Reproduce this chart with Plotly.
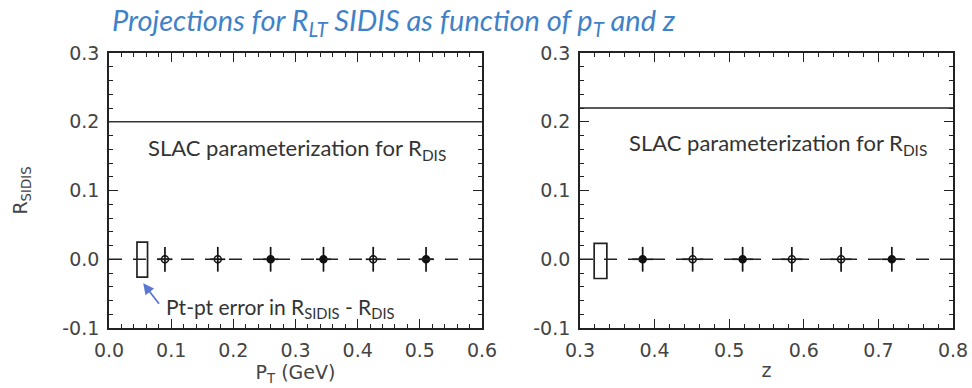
import plotly.graph_objects as go

# ---- data ----
pt_x = [0.09, 0.175, 0.26, 0.345, 0.425, 0.51]
pt_y = [0.0, 0.0, 0.0, 0.0, 0.0, 0.0]
pt_err = [0.018, 0.018, 0.018, 0.018, 0.018, 0.018]
pt_xerr = [0.012, 0.012, 0.012, 0.012, 0.012, 0.012]
pt_filled = [False, False, True, True, False, True]

z_x = [0.384, 0.451, 0.518, 0.584, 0.650, 0.718]
z_y = [0.0, 0.0, 0.0, 0.0, 0.0, 0.0]
z_err = [0.018, 0.018, 0.018, 0.018, 0.018, 0.018]
z_xerr = [0.014, 0.014, 0.014, 0.014, 0.014, 0.014]
z_filled = [True, False, True, False, False, True]

r_dis_pt = 0.2
r_dis_z = 0.22
box_pt_x = [0.045, 0.062]
box_pt_y = [-0.026, 0.025]
box_z_x = [0.319, 0.336]
box_z_y = [-0.028, 0.023]

pt_range = [0.0, 0.6]
z_range = [0.3, 0.8]
y_range = [-0.1, 0.3]
pt_ticks = [0.0, 0.1, 0.2, 0.3, 0.4, 0.5, 0.6]
z_ticks = [0.3, 0.4, 0.5, 0.6, 0.7, 0.8]
y_ticks = [-0.1, 0.0, 0.1, 0.2, 0.3]

W, H = 972, 388
fig = go.Figure()

def add_points(xs, ys, ey, ex, filled, xa, ya):
    for x, y, e, xe, f in zip(xs, ys, ey, ex, filled):
        fig.add_trace(go.Scatter(
            x=[x], y=[y], mode="markers", xaxis=xa, yaxis=ya,
            marker=dict(symbol="circle" if f else "circle-open", size=7,
                        color="#111", line=dict(color="#111", width=1.5)),
            error_y=dict(type="data", array=[e], width=0, thickness=1.7, color="#111"),
            error_x=dict(type="data", array=[xe], width=0, thickness=1.7, color="#111"),
            showlegend=False, hoverinfo="skip"))

add_points(pt_x, pt_y, pt_err, pt_xerr, pt_filled, "x", "y")
add_points(z_x, z_y, z_err, z_xerr, z_filled, "x2", "y2")

font_tick = dict(family="DejaVu Sans, Verdana, sans-serif", size=19, color="#444")
minor = dict(dtick=0.02, ticks="inside", ticklen=4, tickwidth=1.2, tickcolor="#222")
axis_common = dict(showline=True, linecolor="#222", linewidth=1.7, mirror="ticks",
                   ticks="inside", ticklen=9, tickwidth=1.4, tickcolor="#222",
                   showgrid=False, zeroline=False, tickfont=font_tick, automargin=False)

fig.update_layout(
    width=W, height=H, margin=dict(l=0, r=0, t=0, b=0),
    paper_bgcolor="white", plot_bgcolor="white",
    xaxis=dict(domain=[109 / W, 482 / W], range=pt_range, tickvals=pt_ticks,
               ticktext=[f"{t:.1f}" for t in pt_ticks], anchor="y", minor=minor,
               ticklabelstandoff=4,
               title=dict(text="P<sub>T</sub> (GeV)", font=font_tick, standoff=4)),
    yaxis=dict(domain=[1 - 328 / H, 1 - 53 / H], range=y_range, tickvals=y_ticks,
               ticktext=[f"{t:.1f}" for t in y_ticks], anchor="x", minor=minor,
               ticklabelstandoff=4,
               title=dict(text="R<sub>SIDIS</sub>", font=font_tick, standoff=30)),
    xaxis2=dict(domain=[580 / W, 953 / W], range=z_range, tickvals=z_ticks,
                ticktext=[f"{t:.1f}" for t in z_ticks], anchor="y2", minor=minor,
                ticklabelstandoff=4,
                title=dict(text="z", font=font_tick, standoff=4)),
    yaxis2=dict(domain=[1 - 328 / H, 1 - 53 / H], range=y_range, tickvals=y_ticks,
                ticktext=[f"{t:.1f}" for t in y_ticks], anchor="x2", minor=minor,
                ticklabelstandoff=4),
)
for ax in ["xaxis", "yaxis", "xaxis2", "yaxis2"]:
    fig.layout[ax].update(axis_common)

shapes = []
shapes.append(dict(type="line", xref="x domain", yref="y", x0=0, x1=1, y0=r_dis_pt, y1=r_dis_pt,
                   line=dict(color="#333", width=1.7)))
shapes.append(dict(type="line", xref="x2 domain", yref="y2", x0=0, x1=1, y0=r_dis_z, y1=r_dis_z,
                   line=dict(color="#222", width=1.7)))
shapes.append(dict(type="line", xref="x domain", yref="y", x0=0, x1=1, y0=0, y1=0,
                   line=dict(color="#222", width=1.7, dash="13px,11px")))
shapes.append(dict(type="line", xref="x2 domain", yref="y2", x0=0, x1=1, y0=0, y1=0,
                   line=dict(color="#222", width=1.7, dash="13px,11px")))
shapes.append(dict(type="rect", xref="x", yref="y", x0=box_pt_x[0], x1=box_pt_x[1],
                   y0=box_pt_y[0], y1=box_pt_y[1], line=dict(color="#222", width=1.7)))
shapes.append(dict(type="rect", xref="x2", yref="y2", x0=box_z_x[0], x1=box_z_x[1],
                   y0=box_z_y[0], y1=box_z_y[1], line=dict(color="#222", width=1.7)))
fig.update_layout(shapes=shapes)

font_note = dict(family="Lato, Open Sans, sans-serif", size=22, color="#333")
fig.add_annotation(x=0.06, y=0.16, xref="x", yref="y", xanchor="left", yanchor="middle",
                   text="SLAC parameterization for R<sub>DIS</sub>", showarrow=False, font=font_note)
fig.add_annotation(x=0.363, y=0.168, xref="x2", yref="y2", xanchor="left", yanchor="middle",
                   text="SLAC parameterization for R<sub>DIS</sub>", showarrow=False, font=font_note)
fig.add_annotation(x=0.088, y=-0.071, xref="x", yref="y", xanchor="left", yanchor="middle",
                   text="Pt-pt error in R<sub>SIDIS</sub> - R<sub>DIS</sub>", showarrow=False,
                   font=dict(family="Lato, Open Sans, sans-serif", size=21, color="#333"))
fig.add_annotation(x=0.055, y=-0.035, xref="x", yref="y", text="", showarrow=True,
                   ax=17, ay=22, arrowhead=2, arrowsize=1.2, arrowwidth=1.8, arrowcolor="#5a78d0")

fig.add_annotation(x=110 / W, y=1.0, xref="paper", yref="paper", xanchor="left", yanchor="top",
                   text="<i>Projections for R<sub>LT</sub> SIDIS as function of p<sub>T</sub> and z</i>",
                   showarrow=False,
                   font=dict(family="Lato, Open Sans, sans-serif", size=29, color="#3f82c9"))

fig.write_html("out.html")
